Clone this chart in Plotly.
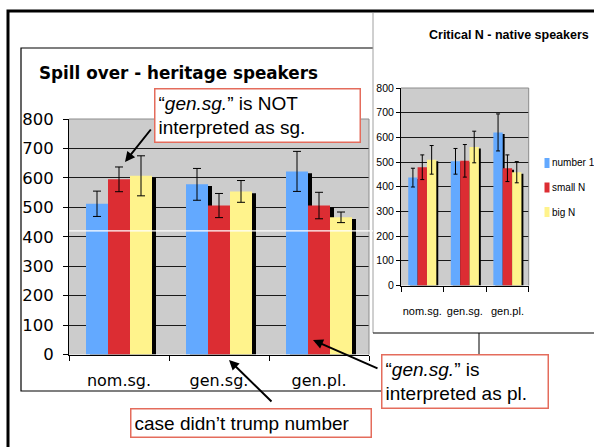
import plotly.graph_objects as go

# categories and series
categories = ["nom.sg.", "gen.sg.", "gen.pl."]
series_names = ["number 1", "small N", "big N"]
series_colors = ["#63A9FF", "#DC2D33", "#FFF38C"]

# Spill over - heritage speakers (means and error bars)
heritage_number1 = [512, 578, 622]
heritage_number1_err = [43, 54, 68]
heritage_smallN = [595, 506, 506]
heritage_smallN_err = [42, 41, 45]
heritage_bigN = [607, 554, 466]
heritage_bigN_err = [68, 37, 18]

# Critical N - native speakers
native_number1 = [437, 503, 620]
native_number1_err = [38, 52, 75]
native_smallN = [479, 505, 475]
native_smallN_err = [50, 66, 54]
native_bigN = [509, 561, 459]
native_bigN_err = [58, 64, 43]

y_ticks = [0, 100, 200, 300, 400, 500, 600, 700, 800]

W, H = 594, 447


def px(x):
    return x / W


def py(y):
    return 1 - y / H


VERDANA = "DejaVu Sans, Verdana, sans-serif"
NARROW = "Liberation Sans, Arial, sans-serif"
ARIAL = "Liberation Sans, Arial, sans-serif"

fig = go.Figure()

offsets = [-0.33, -0.11, 0.11]
bar_w = 0.22

heritage = [(heritage_number1, heritage_number1_err),
            (heritage_smallN, heritage_smallN_err),
            (heritage_bigN, heritage_bigN_err)]
native = [(native_number1, native_number1_err),
          (native_smallN, native_smallN_err),
          (native_bigN, native_bigN_err)]

for xa, ya, data, shadow_dx, err_w in [("x", "y", heritage, 0.04, 4), ("x2", "y2", native, 0.045, 2)]:
    # black drop shadows first (excel style)
    for i, (vals, errs) in enumerate(data):
        fig.add_trace(go.Bar(
            x=categories, y=[v - 6 for v in vals], xaxis=xa, yaxis=ya,
            offset=offsets[i] + shadow_dx, width=bar_w,
            marker=dict(color="black", line=dict(width=0)),
            showlegend=False, hoverinfo="skip"))
    for i, (vals, errs) in enumerate(data):
        fig.add_trace(go.Bar(
            x=categories, y=vals, name=series_names[i], xaxis=xa, yaxis=ya,
            offset=offsets[i], width=bar_w,
            marker=dict(color=series_colors[i], line=dict(width=0)),
            error_y=dict(type="data", array=errs, color="black",
                         thickness=1, width=err_w),
            showlegend=False))

axis_common = dict(showline=True, linecolor="black", linewidth=1, automargin=False,
                   ticks="outside", tickcolor="black", zeroline=False, tickangle=0)

fig.update_layout(
    width=W, height=H,
    margin=dict(l=0, r=0, t=0, b=0, pad=0, autoexpand=False),
    paper_bgcolor="white", plot_bgcolor="#CCCCCC",
    barmode="overlay", showlegend=False,
    xaxis=dict(domain=[px(69), px(369)], type="category", tickson="boundaries",
               ticklen=5, showgrid=False, ticklabelstandoff=11,
               tickfont=dict(family=VERDANA, size=16, color="black"), **axis_common),
    yaxis=dict(domain=[py(354.5), py(119)], range=[0, 800], tickvals=y_ticks,
               ticklen=5, showgrid=True, gridcolor="#1a1a1a", gridwidth=1,
               ticklabelstandoff=6,
               tickfont=dict(family=VERDANA, size=16.5, color="black"), **axis_common),
    xaxis2=dict(domain=[px(401), px(528.7)], type="category", tickson="boundaries",
                ticklen=5, showgrid=False, ticklabelstandoff=15, anchor="y2",
                tickfont=dict(family=NARROW, size=11, color="black"), **axis_common),
    yaxis2=dict(domain=[py(285.5), py(88)], range=[0, 800], tickvals=y_ticks,
                ticklen=4, showgrid=True, gridcolor="#1a1a1a", gridwidth=1,
                anchor="x2",
                tickfont=dict(family=NARROW, size=10.5, color="black"), **axis_common),
)

shapes = []
# slide border
shapes.append(dict(type="path", xref="paper", yref="paper",
                   path=f"M {px(8)},{py(460)} L {px(8)},{py(11)} L {px(600)},{py(11)}",
                   line=dict(color="black", width=3)))
# left chart frame (partly hidden by the right chart)
shapes.append(dict(type="path", xref="paper", yref="paper",
                   path=f"M {px(390)},{py(391)} L {px(21)},{py(391)} L {px(21)},{py(48)} L {px(373)},{py(48)}",
                   line=dict(color="black", width=1.2)))
# right chart frame
shapes.append(dict(type="line", xref="paper", yref="paper",
                   x0=px(373), x1=px(373), y0=py(13), y1=py(333),
                   line=dict(color="#A0A0A0", width=1)))
shapes.append(dict(type="line", xref="paper", yref="paper",
                   x0=px(373), x1=px(600), y0=py(333), y1=py(333),
                   line=dict(color="black", width=1.2)))
shapes.append(dict(type="line", xref="paper", yref="paper",
                   x0=px(479), x1=px(479), y0=py(333), y1=py(355),
                   line=dict(color="black", width=1)))
# gray plot-area borders (top and right)
for x0, x1, y0, y1 in [(69, 369, 119, 354.5), (401, 528.7, 88, 285.5)]:
    shapes.append(dict(type="line", xref="paper", yref="paper",
                       x0=px(x0), x1=px(x1), y0=py(y0), y1=py(y0),
                       line=dict(color="#8C8C8C", width=1)))
    shapes.append(dict(type="line", xref="paper", yref="paper",
                       x0=px(x1), x1=px(x1), y0=py(y0), y1=py(y1),
                       line=dict(color="#8C8C8C", width=1)))
# stray white line across the left chart
shapes.append(dict(type="line", xref="paper", yref="y",
                   x0=px(69), x1=px(373), y0=420, y1=420,
                   line=dict(color="white", width=1.2)))
# legend swatches
for i in range(3):
    yc = 163 + 24.5 * i
    shapes.append(dict(type="rect", xref="paper", yref="paper",
                       x0=px(544.5), x1=px(549.5), y0=py(yc + 5), y1=py(yc - 5),
                       fillcolor=series_colors[i], line=dict(width=0)))
fig.update_layout(shapes=shapes)

ann = []
ann.append(dict(text="<b>Spill over - heritage speakers</b>", xref="paper", yref="paper",
                x=px(37), y=py(73), xanchor="left", yanchor="middle", showarrow=False,
                font=dict(family=VERDANA, size=16.8, color="black")))
ann.append(dict(text="<b>Critical N - native speakers</b>", xref="paper", yref="paper",
                x=px(591), y=py(35), xanchor="right", yanchor="middle", showarrow=False,
                font=dict(family=NARROW, size=12.5, color="black")))
for i in range(3):
    ann.append(dict(text=series_names[i], xref="paper", yref="paper",
                    x=px(550), y=py(163 + 24.5 * i), xanchor="left", yanchor="middle",
                    showarrow=False, font=dict(family=NARROW, size=10, color="black")))

box_style = dict(xref="paper", yref="paper", xanchor="left", yanchor="top",
                 showarrow=False, align="left", bgcolor="white",
                 bordercolor="#E46C5C", borderwidth=1.5, borderpad=3,
                 font=dict(family=ARIAL, size=19, color="black"))
ann.append(dict(text="“<i>gen.sg.</i>” is NOT<br>interpreted as sg.",
                x=px(154), y=py(88), width=198, **box_style))
ann.append(dict(text="case didn’t trump number",
                x=px(130), y=py(408), width=233, **box_style))
ann.append(dict(text="“<i>gen.sg.</i>” is<br>interpreted as pl.",
                x=px(381), y=py(354), width=159, **box_style))

arrow_style = dict(xref="paper", yref="paper", text="", showarrow=True,
                   arrowhead=2, arrowsize=1, arrowwidth=2, arrowcolor="black")
ann.append(dict(x=px(125), y=py(162), ax=27, ay=-34, **arrow_style))
ann.append(dict(x=px(229), y=py(360), ax=44, ay=43, **arrow_style))
ann.append(dict(x=px(313), y=py(340), ax=66, ay=29, **arrow_style))

# arrows first so that the boxes sit on top of their tails
fig.update_layout(annotations=ann[-3:] + ann[:-3])

# drop the default 8px page margin so the figure fills the window
fig.write_html("out.html", config={"displayModeBar": False},
               post_script="document.body.style.margin='0px';")
